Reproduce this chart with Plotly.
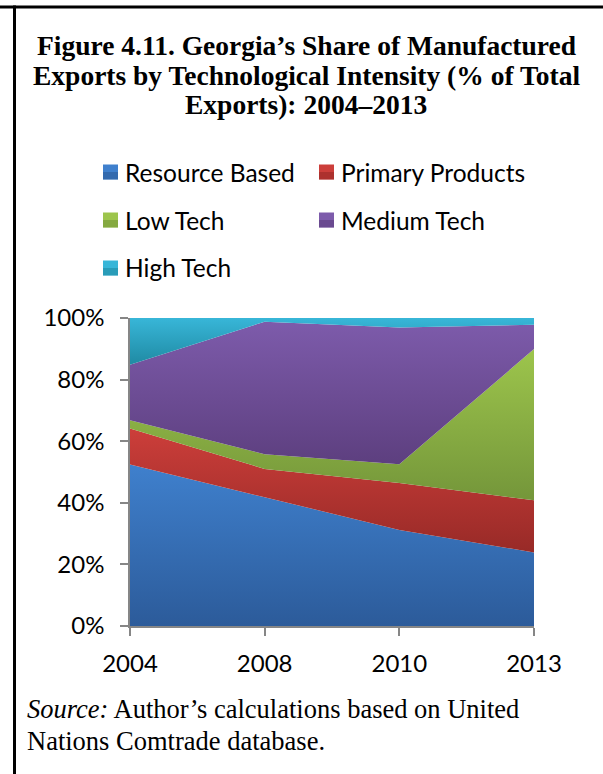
import plotly.graph_objects as go

# Share of manufactured exports by technological intensity (% of total)
years = ["2004", "2008", "2010", "2013"]
resource_based = [52.4, 41.8, 31.2, 23.9]
primary_products = [11.7, 9.2, 15.2, 16.9]
low_tech = [2.7, 4.8, 6.1, 49.1]
medium_tech = [18.0, 43.0, 44.4, 7.9]
high_tech = [15.2, 1.2, 3.1, 2.2]

y_ticks = [0, 20, 40, 60, 80, 100]
y_tick_labels = ["0%", "20%", "40%", "60%", "80%", "100%"]

series_names = ["Resource Based", "Primary Products", "Low Tech", "Medium Tech", "High Tech"]
series_values = [resource_based, primary_products, low_tech, medium_tech, high_tech]
# (dark bottom, light top) for each series' vertical gradient
series_colors = [
    ("#2c5b9a", "#3f80cd"),
    ("#982a27", "#cc3e3a"),
    ("#74963a", "#9dc54c"),
    ("#5d3f7f", "#7d5bab"),
    ("#1f8aa3", "#38b6d8"),
]

W, H = 603, 774
L, R, T, B = 130, 69, 318, 148
PW, PH = W - L - R, H - T - B


def px_x(p):
    return (p - L) / PW


def px_y(p):
    return 1 - (p - T) / PH


fig = go.Figure()
lower = [0.0] * len(years)
for name, vals, (dark, light) in zip(series_names, series_values, series_colors):
    upper = [a + b for a, b in zip(lower, vals)]
    fig.add_trace(go.Scatter(
        x=years, y=vals, name=name, stackgroup="one", mode="none",
        fillgradient=dict(type="vertical",
                          colorscale=[[0, dark], [1, light]],
                          start=min(lower), stop=max(upper)),
        hoverinfo="x+y+name",
    ))
    lower = upper

serif = "Liberation Serif, Times New Roman, serif"
sans = "Lato, Carlito, Calibri, sans-serif"

annotations = []
shapes = []

# title, one annotation per line
title_lines = [
    ("Figure 4.11. Georgia’s Share of Manufactured", 45),
    ("Exports by Technological Intensity (% of Total", 75),
    ("Exports): 2004–2013", 104),
]
for txt, yc in title_lines:
    annotations.append(dict(
        text=f"<b>{txt}</b>", xref="paper", yref="paper",
        x=px_x(306), y=px_y(yc), xanchor="center", yanchor="middle",
        showarrow=False, font=dict(family=serif, size=27.5, color="black"),
    ))

# legend: two columns of swatches with labels
legend_cols = [103, 319]
legend_rows = [172, 220, 268]
for i, (name, (dark, light)) in enumerate(zip(series_names, series_colors)):
    cx = legend_cols[i % 2]
    cy = legend_rows[i // 2]
    shapes.append(dict(
        type="rect", xref="paper", yref="paper",
        x0=px_x(cx), x1=px_x(cx + 15), y0=px_y(cy + 7.5), y1=px_y(cy - 7.5),
        line=dict(width=0), fillcolor=light, layer="above",
    ))
    shapes.append(dict(
        type="rect", xref="paper", yref="paper",
        x0=px_x(cx), x1=px_x(cx + 15), y0=px_y(cy + 7.5), y1=px_y(cy),
        line=dict(width=0), fillcolor=dark, opacity=0.6, layer="above",
    ))
    annotations.append(dict(
        text=name, xref="paper", yref="paper",
        x=px_x(cx + 20), y=px_y(cy), xanchor="left", yanchor="middle",
        showarrow=False, font=dict(family=sans, size=24.5, color="black"),
    ))

# source note
source_lines = [("<i>Source:</i> Author’s calculations based on United", 709),
                ("Nations Comtrade database.", 741)]
for txt, yc in source_lines:
    annotations.append(dict(
        text=txt, xref="paper", yref="paper",
        x=px_x(25), y=px_y(yc), xanchor="left", yanchor="middle",
        showarrow=False, font=dict(family=serif, size=26.5, color="black"),
    ))

# box frame lines (top and left)
shapes.append(dict(type="line", xref="paper", yref="paper",
                   x0=px_x(0), x1=px_x(W), y0=px_y(7), y1=px_y(7),
                   line=dict(color="black", width=3)))
shapes.append(dict(type="line", xref="paper", yref="paper",
                   x0=px_x(14.5), x1=px_x(14.5), y0=px_y(5.5), y1=px_y(H),
                   line=dict(color="black", width=3)))

fig.update_layout(
    width=W, height=H,
    margin=dict(l=L, r=R, t=T, b=B, pad=0),
    paper_bgcolor="white", plot_bgcolor="white",
    showlegend=False,
    annotations=annotations, shapes=shapes,
    font=dict(family=sans, size=22, color="black"),
)
fig.update_xaxes(
    type="category", range=[0, len(years) - 1],
    showline=True, linecolor="#868686", linewidth=1.5,
    ticks="outside", ticklen=8, tickcolor="#868686", tickwidth=1.5,
    showgrid=False, zeroline=False,
    tickfont=dict(family=sans, size=24), ticklabelstandoff=7,
)
fig.update_yaxes(
    range=[0, 100], tickmode="array", tickvals=y_ticks, ticktext=y_tick_labels,
    showline=True, linecolor="#868686", linewidth=1.5,
    ticks="outside", ticklen=8, tickcolor="#868686", tickwidth=1.5,
    showgrid=False, zeroline=False,
    tickfont=dict(family=sans, size=24), ticklabelstandoff=11,
)

fig.write_html("out.html")
